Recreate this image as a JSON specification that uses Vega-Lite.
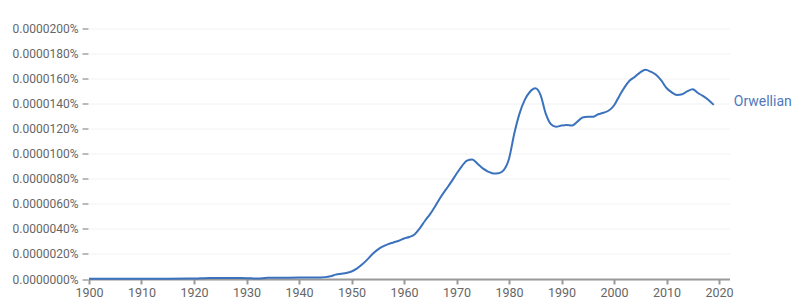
{
  "$schema": "https://vega.github.io/schema/vega-lite/v6.json",
  "autosize": {"type": "none"},
  "width": 640.5,
  "height": 250.5,
  "padding": {"left": 89, "top": 28.5, "right": 72, "bottom": 28},
  "background": "white",
  "config": {
    "view": {"stroke": null},
    "font": "Roboto",
    "axis": {"labelFont": "Roboto", "labelFontSize": 12, "labelColor": "#666666", "titleFont": "Roboto"}
  },
  "data": {
    "values": [
      {"year": 1900, "value": 0.2e-9, "term": "Orwellian"},
      {"year": 1905, "value": 0.2e-9, "term": "Orwellian"},
      {"year": 1910, "value": 0.2e-9, "term": "Orwellian"},
      {"year": 1915, "value": 0.2e-9, "term": "Orwellian"},
      {"year": 1919, "value": 0.3e-9, "term": "Orwellian"},
      {"year": 1921, "value": 0.5e-9, "term": "Orwellian"},
      {"year": 1923, "value": 0.8e-9, "term": "Orwellian"},
      {"year": 1926, "value": 0.8e-9, "term": "Orwellian"},
      {"year": 1929, "value": 0.8e-9, "term": "Orwellian"},
      {"year": 1931, "value": 0.5e-9, "term": "Orwellian"},
      {"year": 1932, "value": 0.4e-9, "term": "Orwellian"},
      {"year": 1934, "value": 0.9e-9, "term": "Orwellian"},
      {"year": 1937, "value": 1.0e-9, "term": "Orwellian"},
      {"year": 1940, "value": 1.1e-9, "term": "Orwellian"},
      {"year": 1943, "value": 1.1e-9, "term": "Orwellian"},
      {"year": 1945, "value": 1.5e-9, "term": "Orwellian"},
      {"year": 1946, "value": 2.2e-9, "term": "Orwellian"},
      {"year": 1947, "value": 3.5e-9, "term": "Orwellian"},
      {"year": 1948, "value": 4.2e-9, "term": "Orwellian"},
      {"year": 1949, "value": 4.8e-9, "term": "Orwellian"},
      {"year": 1950, "value": 6.0e-9, "term": "Orwellian"},
      {"year": 1951, "value": 8.3e-9, "term": "Orwellian"},
      {"year": 1952, "value": 11.5e-9, "term": "Orwellian"},
      {"year": 1953, "value": 15.5e-9, "term": "Orwellian"},
      {"year": 1954, "value": 20.0e-9, "term": "Orwellian"},
      {"year": 1955, "value": 23.5e-9, "term": "Orwellian"},
      {"year": 1956, "value": 26.0e-9, "term": "Orwellian"},
      {"year": 1957, "value": 27.8e-9, "term": "Orwellian"},
      {"year": 1958, "value": 29.2e-9, "term": "Orwellian"},
      {"year": 1959, "value": 30.5e-9, "term": "Orwellian"},
      {"year": 1960, "value": 32.3e-9, "term": "Orwellian"},
      {"year": 1961, "value": 33.5e-9, "term": "Orwellian"},
      {"year": 1962, "value": 35.5e-9, "term": "Orwellian"},
      {"year": 1963, "value": 40.5e-9, "term": "Orwellian"},
      {"year": 1964, "value": 46.5e-9, "term": "Orwellian"},
      {"year": 1965, "value": 52.0e-9, "term": "Orwellian"},
      {"year": 1966, "value": 58.5e-9, "term": "Orwellian"},
      {"year": 1967, "value": 65.5e-9, "term": "Orwellian"},
      {"year": 1968, "value": 71.5e-9, "term": "Orwellian"},
      {"year": 1969, "value": 77.5e-9, "term": "Orwellian"},
      {"year": 1970, "value": 84.0e-9, "term": "Orwellian"},
      {"year": 1971, "value": 90.0e-9, "term": "Orwellian"},
      {"year": 1972, "value": 94.5e-9, "term": "Orwellian"},
      {"year": 1973, "value": 95.5e-9, "term": "Orwellian"},
      {"year": 1974, "value": 92.0e-9, "term": "Orwellian"},
      {"year": 1975, "value": 88.3e-9, "term": "Orwellian"},
      {"year": 1976, "value": 85.8e-9, "term": "Orwellian"},
      {"year": 1977, "value": 84.3e-9, "term": "Orwellian"},
      {"year": 1978, "value": 84.5e-9, "term": "Orwellian"},
      {"year": 1979, "value": 87.0e-9, "term": "Orwellian"},
      {"year": 1980, "value": 96.0e-9, "term": "Orwellian"},
      {"year": 1981, "value": 116.0e-9, "term": "Orwellian"},
      {"year": 1982, "value": 132.0e-9, "term": "Orwellian"},
      {"year": 1983, "value": 143.0e-9, "term": "Orwellian"},
      {"year": 1984, "value": 149.5e-9, "term": "Orwellian"},
      {"year": 1985, "value": 152.2e-9, "term": "Orwellian"},
      {"year": 1986, "value": 147.0e-9, "term": "Orwellian"},
      {"year": 1987, "value": 132.0e-9, "term": "Orwellian"},
      {"year": 1988, "value": 123.5e-9, "term": "Orwellian"},
      {"year": 1989, "value": 121.5e-9, "term": "Orwellian"},
      {"year": 1990, "value": 122.5e-9, "term": "Orwellian"},
      {"year": 1991, "value": 123.0e-9, "term": "Orwellian"},
      {"year": 1992, "value": 122.5e-9, "term": "Orwellian"},
      {"year": 1993, "value": 125.5e-9, "term": "Orwellian"},
      {"year": 1994, "value": 129.0e-9, "term": "Orwellian"},
      {"year": 1995, "value": 129.5e-9, "term": "Orwellian"},
      {"year": 1996, "value": 129.5e-9, "term": "Orwellian"},
      {"year": 1997, "value": 131.5e-9, "term": "Orwellian"},
      {"year": 1998, "value": 132.7e-9, "term": "Orwellian"},
      {"year": 1999, "value": 134.5e-9, "term": "Orwellian"},
      {"year": 2000, "value": 138.5e-9, "term": "Orwellian"},
      {"year": 2001, "value": 146.0e-9, "term": "Orwellian"},
      {"year": 2002, "value": 153.0e-9, "term": "Orwellian"},
      {"year": 2003, "value": 158.5e-9, "term": "Orwellian"},
      {"year": 2004, "value": 161.5e-9, "term": "Orwellian"},
      {"year": 2005, "value": 165.0e-9, "term": "Orwellian"},
      {"year": 2006, "value": 167.0e-9, "term": "Orwellian"},
      {"year": 2007, "value": 165.5e-9, "term": "Orwellian"},
      {"year": 2008, "value": 163.0e-9, "term": "Orwellian"},
      {"year": 2009, "value": 158.5e-9, "term": "Orwellian"},
      {"year": 2010, "value": 152.5e-9, "term": "Orwellian"},
      {"year": 2011, "value": 149.0e-9, "term": "Orwellian"},
      {"year": 2012, "value": 147.0e-9, "term": "Orwellian"},
      {"year": 2013, "value": 147.5e-9, "term": "Orwellian"},
      {"year": 2014, "value": 150.0e-9, "term": "Orwellian"},
      {"year": 2015, "value": 151.4e-9, "term": "Orwellian"},
      {"year": 2016, "value": 148.5e-9, "term": "Orwellian"},
      {"year": 2017, "value": 146.0e-9, "term": "Orwellian"},
      {"year": 2018, "value": 143.0e-9, "term": "Orwellian"},
      {"year": 2019, "value": 139.0e-9, "term": "Orwellian"}
    ]
  },
  "encoding": {
    "x": {
      "field": "year", "type": "quantitative",
      "scale": {"domain": [1900, 2022], "nice": false, "zero": false},
      "axis": {
        "title": null, "values": [1900,1910,1920,1930,1940,1950,1960,1970,1980,1990,2000,2010,2020],
        "format": "d", "grid": false, "domainColor": "#999999", "domainWidth": 2,
        "tickColor": "#999999", "tickWidth": 2, "tickSize": 5, "labelPadding": 2, "labelFontSize": 12.5,
        "labelFlush": false, "labelOverlap": false
      }
    },
    "y": {
      "field": "value", "type": "quantitative",
      "scale": {"domain": [0, 2e-7], "nice": false},
      "axis": {
        "title": null, "values": [0, 2e-8, 4e-8, 6e-8, 8e-8, 1e-7, 1.2e-7, 1.4e-7, 1.6e-7, 1.8e-7, 2e-7],
        "format": ".7%", "domain": false, "grid": true, "gridColor": "#f2f2f2",
        "tickColor": "#777777", "tickSize": 6, "labelPadding": 4, "offset": 1,
        "labelFlush": false, "labelOverlap": false, "labelFontSize": 12
      }
    }
  },
  "layer": [
    {
      "mark": {"type": "line", "interpolate": "monotone", "color": "#3b72bd", "strokeWidth": 2}
    },
    {
      "transform": [{"filter": "datum.year == 2019"}],
      "mark": {"type": "text", "align": "left", "baseline": "middle", "dx": 20, "dy": -3, "fontSize": 14, "font": "Roboto", "color": "#5078bd"},
      "encoding": {"text": {"field": "term"}}
    }
  ]
}
